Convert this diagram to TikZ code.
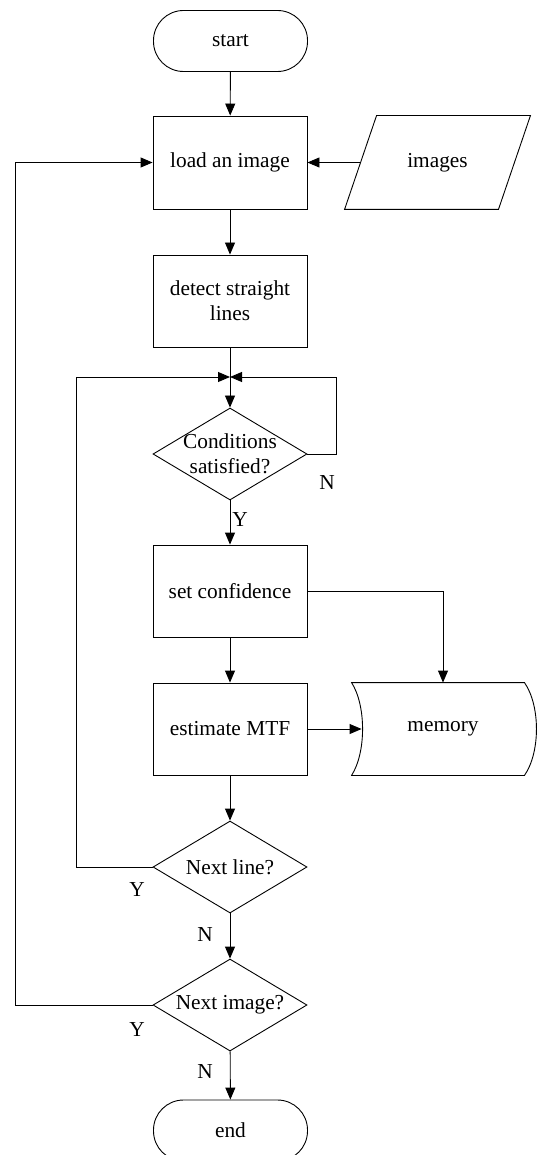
\documentclass[tikz,border=0pt]{standalone}
\usepackage{fontspec}
\setmainfont{Liberation Serif}
\usetikzlibrary{shapes.geometric,arrows.meta,calc}
\begin{document}
\begin{tikzpicture}[x=1pt,y=-1pt,
  font=\fontsize{21.33}{25}\selectfont,
  line width=0.9pt,
  box/.style={draw, minimum width=154pt, minimum height=92pt, inner sep=2pt, align=center},
  term/.style={draw, rounded corners=30pt, minimum width=154pt, minimum height=61pt},
  dia/.style={draw, diamond, minimum width=154pt, minimum height=92pt, inner sep=0pt},
  plain/.style={draw=none, inner sep=0pt},
  arr/.style={-{Triangle[length=12pt,width=10pt]}}]
\useasboundingbox (0,0) rectangle (541,1155);

% main column
\node[term] (start) at (230.5,41) {start};
\node[box, minimum height=93pt] (load) at (230,162.5) {load an image};
\node[box] (detect) at (230,301) {detect straight\\lines};
\node[dia] (cond) at (230,454) {};
\node[plain, align=center] (condtxt) at (cond) {Conditions\\satisfied?};
\node[box] (setc) at (230,591) {set confidence};
\node[box] (est) at (230,729) {estimate MTF};
\node[dia] (nextline) at (230,867) {};
\node[plain] (nltxt) at (nextline) {Next line?};
\node[dia] (nextimg) at (230,1005) {};
\node[plain] (nitxt) at (nextimg) {Next image?};
\node[term] (end) at (230.5,1130.5) {end};

% input data (parallelogram)
\node[draw=none, minimum width=153pt, minimum height=93pt] (images) at (437.5,162.5) {images};
\draw ($(images.south west)+(-16,0)$) -- ($(images.south east)+(-16,0)$)
   -- ($(images.north east)+(16,0)$) -- ($(images.north west)+(16,0)$) -- cycle;

% stored data
\node[draw=none, minimum width=162pt, minimum height=92pt] (memory) at (443,729) {memory};
\draw ($(memory.north west)+(-10,0)$) -- (memory.north east)
   .. controls ($(memory.north east)+(16,23)$) and ($(memory.south east)+(16,-23)$) .. (memory.south east)
   -- ($(memory.south west)+(-10,0)$)
   .. controls ($(memory.south west)+(4.7,-23)$) and ($(memory.north west)+(4.7,23)$) .. ($(memory.north west)+(-10,0)$)
   -- cycle;

% junction above the condition test
\coordinate (J) at (detect.south |- 0,377);

% connectors
\draw[arr] (start) -- (load);
\draw[arr] (images.west) -- (load.east);
\draw[arr] (load) -- (detect);
\draw[arr] (detect) -- (cond);
\draw[arr] (cond.east) -- ++(29,0) |- (J);
\draw[arr] (cond) -- (setc);
\draw[arr] (setc.east) -| (memory.north);
\draw[arr] (setc) -- (est);
\draw[arr] (est.east) -- (memory.west);
\draw[arr] (est) -- (nextline);
\draw[arr] (nextline.west) -- ++(-76,0) |- (J);
\draw[arr] (nextline) -- (nextimg);
\draw[arr] (nextimg.west) -- ++(-137,0) |- (load.west);
\draw[arr] (nextimg) -- (end);

% branch labels
\node[plain] (n1) at (327,483) {N};
\node[plain] (y1) at (240,520) {Y};
\node[plain] (y2) at (137,890) {Y};
\node[plain] (n2) at (205,935) {N};
\node[plain] (y3) at (137,1030) {Y};
\node[plain] (n3) at (205,1072) {N};
\end{tikzpicture}
\end{document}
